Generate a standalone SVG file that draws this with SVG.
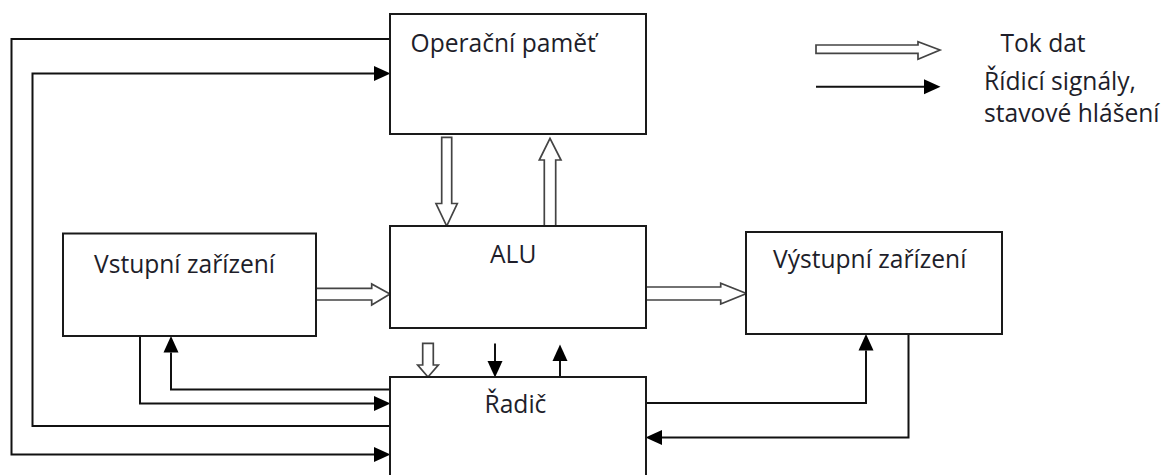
<svg xmlns="http://www.w3.org/2000/svg" width="1171" height="475" viewBox="0 0 1171 475">
<defs>
<marker id="ah" markerUnits="userSpaceOnUse" markerWidth="17" markerHeight="16" refX="0" refY="8" orient="auto">
<path d="M0,0.5 L16.5,8 L0,15.5 z" fill="#000"/>
</marker>
<style>
.box{fill:#fff;stroke:#1a1a1a;stroke-width:2}
.lbl{font-family:"Open Sans","Noto Sans",sans-serif;font-size:24.6px;fill:#1e1e2a}
.ln{fill:none;stroke:#111;stroke-width:2;marker-end:url(#ah)}
.hol{fill:#fff;stroke:#444;stroke-width:1.7;stroke-linejoin:miter}
</style>
</defs>
<rect width="1171" height="475" fill="#fff"/>

<g id="connectors">
<path class="ln" d="M390,39 H11.5 V454.5 H374"/>
<path class="ln" d="M390,426 H32.5 V73.5 H374"/>
<path class="ln" d="M140,336 V403.5 H374"/>
<path class="ln" d="M390,389.5 H171 V352.5"/>
<path class="ln" d="M646,403 H866 V350.5"/>
<path class="ln" d="M908.5,334 V437.5 H662"/>
<path class="ln" d="M495,343.5 V361"/>
<path class="ln" d="M560,377 V361"/>
<polygon class="hol" points="441.7,137.3 451.7,137.3 451.7,203.5 457.3,203.5 446.7,226 436,203.5 441.7,203.5"/>
<polyline class="hol" points="544.3,226.5 544.3,160 539.3,160 550,138.3 561,160 555.7,160 555.7,226.5"/>
<polyline class="hol" points="316,288.3 371.7,288.3 371.7,284 390,294 371.7,305 371.7,300 316,300"/>
<polyline class="hol" points="646,287 720.7,287 720.7,283.3 746.5,293.5 720.7,304 720.7,300 646,300"/>
<polygon class="hol" points="422.7,343.3 433.3,343.3 433.3,365 438.3,365 428,377 417.7,365 422.7,365"/>
</g>

<g id="node-operacni-pamet">
<rect class="box" x="390" y="14" width="256" height="120"/>
<text class="lbl" x="410.5" y="52">Operační paměť</text>
</g>
<g id="node-alu">
<rect class="box" x="390" y="226" width="256" height="102"/>
<text class="lbl" x="490" y="263">ALU</text>
</g>
<g id="node-radic">
<rect class="box" x="390" y="377" width="256" height="110"/>
<text class="lbl" x="484.5" y="413">Řadič</text>
</g>
<g id="node-vstupni">
<rect class="box" x="63" y="233.5" width="253" height="102.5"/>
<text class="lbl" x="94" y="273">Vstupní zařízení</text>
</g>
<g id="node-vystupni">
<rect class="box" x="746" y="232" width="256" height="102"/>
<text class="lbl" x="773" y="268">Výstupní zařízení</text>
</g>

<g id="legend">
<polygon class="hol" points="816,45 918,45 918,41.7 940,50 918,59.3 918,53.3 816,53.3"/>
<path class="ln" d="M816,86.7 H924"/>
<text class="lbl" x="1000.5" y="52">Tok dat</text>
<text class="lbl" x="984" y="90">Řídicí signály,</text>
<text class="lbl" x="984" y="122">stavové hlášení</text>
</g>
</svg>
